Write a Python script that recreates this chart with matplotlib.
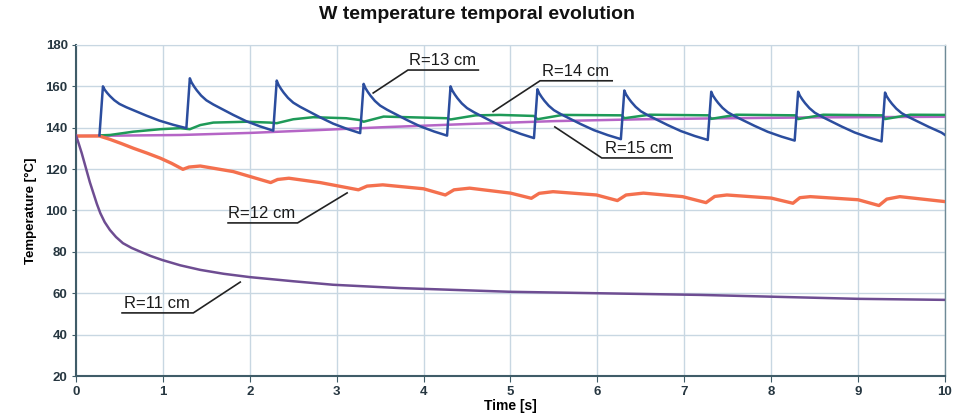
import numpy as np
import matplotlib
matplotlib.use("Agg")
from matplotlib import pyplot as plt

plt.rcParams['font.family'] = ['Liberation Sans', 'DejaVu Sans']

# R=13 cm: saw-tooth, one tooth per second (trough time, peak, next trough)
r13_trough_t = [0.27, 1.27, 2.27, 3.27, 4.27, 5.27, 6.27, 7.27, 8.27, 9.27]
r13_start = [136.3, 139.8, 138.6, 137.4, 136.2, 135.0, 134.5, 134.1, 133.8, 133.4]
r13_peak = [160.0, 163.9, 162.8, 161.2, 160.0, 158.6, 158.0, 157.4, 157.4, 157.0]
r13_end = [139.8, 138.6, 137.4, 136.2, 135.0, 134.5, 134.1, 133.8, 133.4, 133.4]
# shape of one tooth read from the second cycle (offset from peak [s], share of drop)
tooth_dt = [0.0, 0.02, 0.05, 0.08, 0.13, 0.19, 0.27, 0.35, 0.50, 0.65, 0.81, 0.96]
tooth_drop = [0.0, 0.08, 0.16, 0.23, 0.33, 0.42, 0.50, 0.57, 0.70, 0.82, 0.92, 1.0]

r14_t = [0.27, 0.39, 0.66, 0.97, 1.2, 1.31, 1.43, 1.58, 1.96, 2.23, 2.31, 2.5, 2.73,
         3.11, 3.27, 3.31, 3.54, 4.27, 4.31, 4.6, 4.88, 5.27, 5.31, 5.6, 6.28, 6.31,
         6.6, 7.28, 7.31, 7.6, 8.28, 8.31, 8.6, 9.28, 9.31, 9.6, 10.0]
r14_T = [136.3, 136.5, 138.1, 139.3, 139.8, 139.3, 141.3, 142.5, 142.9, 142.5, 142.2, 144.1, 145.1,
         144.6, 143.7, 142.9, 145.4, 144.6, 144.0, 146.0, 146.2, 145.7, 144.1, 146.2, 146.0, 144.6,
         146.3, 146.0, 144.3, 146.3, 146.0, 144.2, 146.3, 146.0, 144.2, 146.3, 146.2]

r15_t = [0.0, 1.2, 2.0, 2.8, 3.5, 4.5, 5.5, 6.5, 7.5, 8.5, 10.0]
r15_T = [136.0, 136.5, 137.5, 138.9, 140.2, 141.8, 143.2, 144.1, 144.6, 145.0, 145.3]

r12_t = [0.0, 0.27, 0.39, 0.52, 0.66, 0.82, 0.97, 1.1, 1.23, 1.3, 1.43, 1.81, 2.24, 2.32, 2.45, 2.81,
         3.25, 3.35, 3.53, 4.0, 4.25, 4.35, 4.53, 5.0, 5.24, 5.33, 5.49, 5.99, 6.23,
         6.33, 6.53, 6.98, 7.25, 7.35, 7.49, 8.0, 8.25, 8.33, 8.45, 9.0, 9.24, 9.33,
         9.48, 10.0]
r12_T = [136.0, 136.0, 134.4, 132.4, 130.1, 127.7, 125.3, 122.8, 119.9, 121.0, 121.5, 118.8, 113.5, 115.0, 115.6, 113.5,
         110.0, 111.8, 112.4, 110.5, 107.5, 110.0, 110.8, 108.4, 105.9, 108.3, 109.1, 107.5, 104.8,
         107.5, 108.4, 106.7, 103.8, 106.8, 107.5, 106.0, 103.5, 106.2, 106.7, 105.2, 102.4, 105.5,
         106.7, 104.3]

r11_t = [0.0, 0.03, 0.066, 0.12, 0.16, 0.2, 0.24, 0.28, 0.33, 0.39, 0.46, 0.54, 0.64, 0.74, 0.86, 0.99,
         1.2, 1.43, 1.7, 2.0, 2.5, 2.96, 3.73, 5.0, 7.18, 9.0, 10.0]
r11_T = [136.3, 132.5, 127.7, 119.6, 113.6, 108.4, 103.2, 98.7, 94.4, 90.6, 87.2, 84.2, 81.9, 80.1, 78.0, 76.1,
         73.5, 71.3, 69.4, 67.8, 65.8, 64.1, 62.5, 60.7, 59.2, 57.3, 56.8]

# label text, text position, underline x-range, leader end on the curve
labels = [
    ('R=13 cm', (4.22, 169.0), (3.82, 4.63, 167.9), (3.42, 156.8)),
    ('R=14 cm', (5.75, 163.8), (5.34, 6.17, 162.7), (4.80, 147.8)),
    ('R=15 cm', (6.47, 126.5), (6.05, 6.86, 125.4), (5.51, 140.4)),
    ('R=12 cm', (2.14, 95.1), (1.75, 2.55, 94.0), (3.12, 108.5)),
    ('R=11 cm', (0.93, 51.6), (0.53, 1.35, 50.5), (1.89, 65.4)),
]

# build R=13 from its teeth
r13_t, r13_T = [], []
for k in range(len(r13_trough_t)):
    t0 = r13_trough_t[k]
    r13_t.append(t0)
    r13_T.append(r13_start[k])
    drop = r13_peak[k] - r13_end[k]
    for dt, f in zip(tooth_dt, tooth_drop):
        t = t0 + 0.04 + dt
        if t > 10.0:
            break
        r13_t.append(t)
        r13_T.append(r13_peak[k] - f * drop)
# final point at t=10
r13_t.append(10.0)
r13_T.append(136.5)

fig = plt.figure(figsize=(9.54, 4.19), dpi=100)
ax = fig.add_axes([76 / 954, 1 - 376 / 419, (945 - 76) / 954, (376 - 45) / 419])

ax.plot(r15_t, r15_T, color='#b565c6', lw=1.8, zorder=3)
ax.plot(r14_t, r14_T, color='#1e9a58', lw=1.8, zorder=4)
ax.plot(r12_t, r12_T, color='#f4704e', lw=2.4, zorder=4)
ax.plot(r11_t, r11_T, color='#6e4d92', lw=1.8, zorder=4)
ax.plot(r13_t, r13_T, color='#2b4d9e', lw=1.8, zorder=5)

for text, (tx, ty), (ux0, ux1, uy), (lx, ly) in labels:
    ax.text(tx, ty, text, fontsize=12, ha='center', va='bottom', color='#1a1a1a', zorder=6)
    if lx > ux1:
        xs = [ux0, ux1, lx]
    else:
        xs = [ux1, ux0, lx]
    ax.plot(xs, [uy, uy, ly], color='#222222', lw=1.2, zorder=6, solid_joinstyle='miter')

ax.set_xlim(0, 10)
ax.set_ylim(20, 180)
ax.set_xticks(range(0, 11))
ax.set_yticks(range(20, 181, 20))
ax.grid(True, color='#c8d7e2', lw=1.0)
ax.set_axisbelow(True)

for side in ['left', 'bottom', 'right']:
    ax.spines[side].set_color('#3f5c68')
    ax.spines[side].set_linewidth(1.5)
ax.spines['right'].set_color('#6f8a96')
ax.spines['right'].set_linewidth(1.0)
ax.spines['top'].set_color('#c8d7e2')
ax.tick_params(axis='both', direction='out', length=4, color='#3f5c68',
               labelsize=9.5, labelcolor='#263640', pad=3)
ax.tick_params(axis='y', length=3)
for lab in ax.get_xticklabels() + ax.get_yticklabels():
    lab.set_fontweight('bold')

ax.set_xlabel('Time [s]', fontsize=10, fontweight='bold', labelpad=1)
ax.set_ylabel('Temperature [°C]', fontsize=9.5, fontweight='bold', labelpad=6)
fig.text(0.5, 0.965, 'W temperature temporal evolution', fontsize=14,
         fontweight='bold', ha='center', va='center', color='#111111')

fig.savefig('out.png', dpi=100)
